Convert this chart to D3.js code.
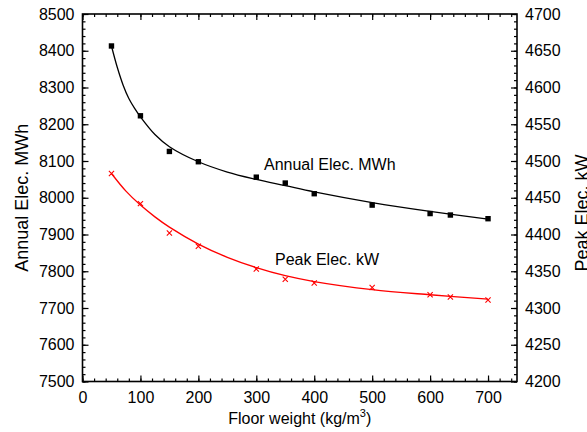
<!DOCTYPE html>
<html>
<head>
<meta charset="utf-8">
<script src="https://cdn.jsdelivr.net/npm/d3@7"></script>
<style>
  body { margin: 0; background: #fff; }
  text { font-family: "Liberation Sans", Arial, sans-serif; fill: #000; }
</style>
</head>
<body>
<script>
// floor weight values (kg/m3)
const floorWeight = [50, 100, 150, 200, 300, 350, 400, 500, 600, 635, 700];
// annual electricity, MWh (left axis)
const annualElec = [8413, 8223, 8126, 8098, 8056, 8040, 8011, 7980, 7957, 7953, 7943];
// peak electricity, kW (right axis)
const peakElec = [4483, 4442, 4402, 4384, 4353, 4339, 4334, 4328, 4318, 4315, 4311];

// fitted trend lines
const annualFitX = [50, 60, 70, 80, 90, 100, 125, 150, 200, 250, 300, 350, 400, 500, 600, 700];
const annualFitY = [8413, 8355, 8307, 8270, 8243, 8220, 8172, 8139, 8098, 8070, 8050, 8033, 8016, 7987, 7963, 7942];
const peakFitX = [50, 75, 100, 125, 150, 200, 250, 300, 350, 400, 500, 600, 700];
const peakFitY = [4483, 4459, 4440, 4424, 4410, 4387, 4369, 4355, 4344, 4336, 4325, 4318, 4312];

const xTicks = [0, 100, 200, 300, 400, 500, 600, 700];
const leftTicks = [7500, 7600, 7700, 7800, 7900, 8000, 8100, 8200, 8300, 8400, 8500];
const rightTicks = [4200, 4250, 4300, 4350, 4400, 4450, 4500, 4550, 4600, 4650, 4700];

const width = 587, height = 432;
const margin = {top: 14, left: 82.5, right: 70, bottom: 50.5};
const pwidth = width - margin.left - margin.right;
const pheight = height - margin.top - margin.bottom;

const svg = d3.select("body").append("svg")
  .attr("width", width)
  .attr("height", height);

const g = svg.append("g").attr("transform", `translate(${margin.left}, ${margin.top})`);

const x = d3.scaleLinear().domain([0, 750]).range([0, pwidth]);
const yL = d3.scaleLinear().domain([7500, 8500]).range([pheight, 0]);
const yR = d3.scaleLinear().domain([4200, 4700]).range([pheight, 0]);

const minorX = d3.range(0, 751, 20);
const minorL = d3.range(7500, 8501, 20);
const minorR = d3.range(4200, 4701, 10);

function styleAxis(sel) {
  sel.select(".domain").remove();
  sel.selectAll(".tick line").attr("stroke", "#000").attr("stroke-width", 1.2);
  sel.selectAll(".tick text").style("font-size", "16px").attr("fill", "#000");
}

// bottom
g.append("g").attr("transform", `translate(0, ${pheight})`)
  .call(d3.axisBottom(x).tickValues(minorX).tickSize(-3).tickFormat(""))
  .call(styleAxis);
g.append("g").attr("transform", `translate(0, ${pheight})`)
  .call(d3.axisBottom(x).tickValues(xTicks).tickSize(-6).tickPadding(10).tickFormat(d3.format("d")))
  .call(styleAxis);
// top
g.append("g")
  .call(d3.axisTop(x).tickValues(minorX).tickSize(-3).tickFormat(""))
  .call(styleAxis);
g.append("g")
  .call(d3.axisTop(x).tickValues(xTicks).tickSize(-6).tickFormat(""))
  .call(styleAxis);
// left
g.append("g")
  .call(d3.axisLeft(yL).tickValues(minorL).tickSize(-3).tickFormat(""))
  .call(styleAxis);
g.append("g")
  .call(d3.axisLeft(yL).tickValues(leftTicks).tickSize(-6).tickPadding(8).tickFormat(d3.format("d")))
  .call(styleAxis);
// right
g.append("g").attr("transform", `translate(${pwidth}, 0)`)
  .call(d3.axisRight(yR).tickValues(minorR).tickSize(-3).tickFormat(""))
  .call(styleAxis);
g.append("g").attr("transform", `translate(${pwidth}, 0)`)
  .call(d3.axisRight(yR).tickValues(rightTicks).tickSize(-6).tickPadding(8).tickFormat(d3.format("d")))
  .call(styleAxis);

// frame
g.append("rect")
  .attr("x", 0).attr("y", 0)
  .attr("width", pwidth).attr("height", pheight)
  .attr("fill", "none")
  .attr("stroke", "#000")
  .attr("stroke-width", 1.6);

// fit lines
const annualLine = d3.line()
  .x((d, i) => x(annualFitX[i]))
  .y(d => yL(d))
  .curve(d3.curveCatmullRom);
const peakLine = d3.line()
  .x((d, i) => x(peakFitX[i]))
  .y(d => yR(d))
  .curve(d3.curveCatmullRom);

g.append("path")
  .datum(annualFitY)
  .attr("d", annualLine)
  .attr("fill", "none")
  .attr("stroke", "#000")
  .attr("stroke-width", 1.3);

g.append("path")
  .datum(peakFitY)
  .attr("d", peakLine)
  .attr("fill", "none")
  .attr("stroke", "#ff0000")
  .attr("stroke-width", 1.3);

// markers
g.selectAll(".sq")
  .data(annualElec)
  .enter()
  .append("rect")
  .attr("class", "sq")
  .attr("x", (d, i) => x(floorWeight[i]) - 2.7)
  .attr("y", d => yL(d) - 2.7)
  .attr("width", 5.4)
  .attr("height", 5.4)
  .attr("fill", "#000");

g.selectAll(".cross")
  .data(peakElec)
  .enter()
  .append("path")
  .attr("class", "cross")
  .attr("transform", (d, i) => `translate(${x(floorWeight[i])}, ${yR(d)})`)
  .attr("d", "M-2.6,-2.6L2.6,2.6M-2.6,2.6L2.6,-2.6")
  .attr("stroke", "#ff0000")
  .attr("stroke-width", 1.1)
  .attr("fill", "none");

// inline labels
svg.append("text")
  .attr("x", 264).attr("y", 170)
  .style("font-size", "16px")
  .text("Annual Elec. MWh");
svg.append("text")
  .attr("x", 275).attr("y", 265)
  .style("font-size", "16px")
  .text("Peak Elec. kW");

// axis titles
const xt = svg.append("text")
  .attr("x", margin.left + pwidth / 2)
  .attr("y", 424)
  .attr("text-anchor", "middle")
  .style("font-size", "16px");
xt.append("tspan").text("Floor weight (kg/m");
xt.append("tspan").attr("dy", -7).style("font-size", "11px").text("3");
xt.append("tspan").attr("dy", 7).text(")");

svg.append("text")
  .attr("transform", `translate(28, ${margin.top + pheight / 2}) rotate(-90)`)
  .attr("text-anchor", "middle")
  .style("font-size", "18px")
  .text("Annual Elec. MWh");

svg.append("text")
  .attr("transform", `translate(588, 213) rotate(-90)`)
  .attr("text-anchor", "middle")
  .style("font-size", "18px")
  .text("Peak Elec. kW");
</script>
</body>
</html>
